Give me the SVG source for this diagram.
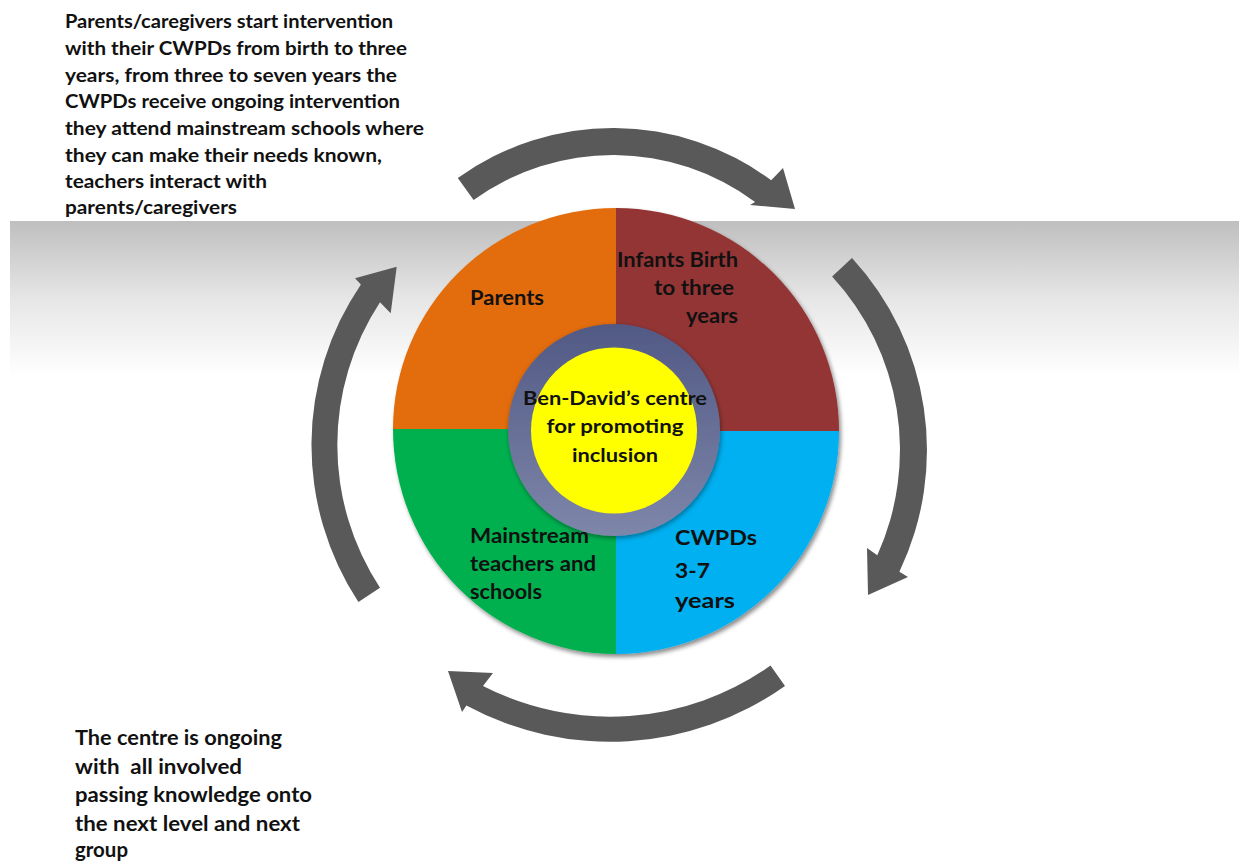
<svg xmlns="http://www.w3.org/2000/svg" width="1239" height="861" viewBox="0 0 1239 861">
  <defs>
    <linearGradient id="band" x1="0" y1="0" x2="0" y2="1">
      <stop offset="0" stop-color="#bfbfbf"/>
      <stop offset="0.5" stop-color="#e6e6e6"/>
      <stop offset="1" stop-color="#ffffff"/>
    </linearGradient>
    <linearGradient id="ring" x1="0" y1="0" x2="0" y2="1">
      <stop offset="0" stop-color="#515984"/>
      <stop offset="1" stop-color="#7e86aa"/>
    </linearGradient>
    <filter id="shadow" x="-10%" y="-10%" width="120%" height="120%">
      <feDropShadow dx="2" dy="3" stdDeviation="2" flood-color="#000" flood-opacity="0.45"/>
    </filter>
    <filter id="ringShadow" x="-20%" y="-20%" width="140%" height="140%">
      <feDropShadow dx="1" dy="2" stdDeviation="2.5" flood-color="#000" flood-opacity="0.4"/>
    </filter>
  </defs>
  <style>
    .t { font-family: Lato, "Liberation Sans", sans-serif; font-weight: bold; fill: #111; }
    .note { font-size: 18.5px; }
    .note2 { font-size: 20.5px; }
    .lab { font-size: 20px; }
    .ctr { font-size: 18.5px; }
    .arrow { fill: #595959; }
  </style>

  <rect x="10" y="221" width="1229" height="155" fill="url(#band)"/>

  <g id="note-top">
    <text class="t note" x="65" y="28" textLength="328" lengthAdjust="spacingAndGlyphs">Parents/caregivers start intervention</text>
    <text class="t note" x="65" y="55" textLength="342" lengthAdjust="spacingAndGlyphs">with their CWPDs from birth to three</text>
    <text class="t note" x="65" y="82" textLength="332" lengthAdjust="spacingAndGlyphs">years, from three to seven years the</text>
    <text class="t note" x="65" y="108" textLength="335" lengthAdjust="spacingAndGlyphs">CWPDs receive ongoing intervention</text>
    <text class="t note" x="65" y="135" textLength="359" lengthAdjust="spacingAndGlyphs">they attend mainstream schools where</text>
    <text class="t note" x="65" y="162" textLength="317" lengthAdjust="spacingAndGlyphs">they can make their needs known,</text>
    <text class="t note" x="65" y="188" textLength="202" lengthAdjust="spacingAndGlyphs">teachers interact with</text>
    <text class="t note" x="65" y="214" textLength="172" lengthAdjust="spacingAndGlyphs">parents/caregivers</text>
  </g>

  <g id="note-bottom">
    <text class="t note2" x="75" y="745" textLength="207" lengthAdjust="spacingAndGlyphs">The centre is ongoing</text>
    <text class="t note2" x="75" y="773.5" textLength="167" lengthAdjust="spacingAndGlyphs" style="white-space:pre">with  all involved</text>
    <text class="t note2" x="75" y="802" textLength="237" lengthAdjust="spacingAndGlyphs">passing knowledge onto</text>
    <text class="t note2" x="75" y="830.5" textLength="225" lengthAdjust="spacingAndGlyphs">the next level and next</text>
    <text class="t note2" x="75" y="857" textLength="53" lengthAdjust="spacingAndGlyphs">group</text>
  </g>

  <g id="connectors">
    <path class="arrow" d="M 457.8,178.1 A 265.3 265.3 0 0 1 771.2,180.3 L 783,168 L 795,209 L 750,205 L 755.1,202.0 A 238.3 238.3 0 0 0 473.6,200.0 Z"/>
    <path class="arrow" d="M 852.0,258.1 A 283 283 0 0 1 899.4,571.8 L 908,577 L 868,595 L 867,548 L 877.3,555.3 A 256 256 0 0 0 832.1,276.4 Z"/>
    <path class="arrow" d="M 785.0,686.0 A 302.8 302.8 0 0 1 466.4,705.5 L 462,712 L 448,671 L 493,673 L 483.0,686.0 A 277.8 277.8 0 0 0 770.5,665.6 Z"/>
    <path class="arrow" d="M 358.4,601.9 A 285.7 285.7 0 0 1 360.9,284.4 L 355,278.3 L 396.7,266.7 L 390.7,313.3 L 380.0,302.3 A 259.9 259.9 0 0 0 380.0,587.7 Z"/>
  </g>

  <g id="pie" filter="url(#shadow)">
    <g id="q-parents">
      <path d="M 616,429 L 616,208 A 223 221 0 0 0 393,429 Z" fill="#e36c0a"/>
    </g>
    <g id="q-infants">
      <path d="M 616,431 L 616,208 A 223 223 0 0 1 839,431 Z" fill="#943634"/>
    </g>
    <g id="q-cwpds">
      <path d="M 616,431 L 839,431 A 223 223 0 0 1 616,654 Z" fill="#00b0f0"/>
    </g>
    <g id="q-mainstream">
      <path d="M 616,429 L 616,654 A 223 225 0 0 1 393,429 Z" fill="#00b050"/>
    </g>
  </g>

  <g id="centre">
    <circle cx="614" cy="430" r="106" fill="url(#ring)" filter="url(#ringShadow)"/>
    <circle cx="614" cy="430.5" r="83" fill="#ffff00"/>
    <text class="t ctr" x="615" y="405" text-anchor="middle" textLength="184" lengthAdjust="spacingAndGlyphs">Ben-David’s centre</text>
    <text class="t ctr" x="615" y="433" text-anchor="middle" textLength="137" lengthAdjust="spacingAndGlyphs">for promoting</text>
    <text class="t ctr" x="615" y="462" text-anchor="middle" textLength="86" lengthAdjust="spacingAndGlyphs">inclusion</text>
  </g>

  <g id="label-parents">
    <text class="t lab" x="470" y="305" textLength="74" lengthAdjust="spacingAndGlyphs">Parents</text>
  </g>
  <g id="label-infants">
    <text class="t lab" x="738" y="267" text-anchor="end" textLength="121" lengthAdjust="spacingAndGlyphs">Infants Birth</text>
    <text class="t lab" x="734" y="295" text-anchor="end" textLength="80" lengthAdjust="spacingAndGlyphs">to three</text>
    <text class="t lab" x="738" y="323" text-anchor="end" textLength="52" lengthAdjust="spacingAndGlyphs">years</text>
  </g>
  <g id="label-mainstream">
    <text class="t lab" x="470" y="543" textLength="119" lengthAdjust="spacingAndGlyphs">Mainstream</text>
    <text class="t lab" x="470" y="571" textLength="126" lengthAdjust="spacingAndGlyphs">teachers and</text>
    <text class="t lab" x="470" y="599" textLength="72" lengthAdjust="spacingAndGlyphs">schools</text>
  </g>
  <g id="label-cwpds">
    <text class="t lab" x="675" y="545" textLength="82" lengthAdjust="spacingAndGlyphs" style="font-size:21.5px">CWPDs</text>
    <text class="t lab" x="675" y="578" textLength="35" lengthAdjust="spacingAndGlyphs" style="font-size:21.5px">3-7</text>
    <text class="t lab" x="675" y="608" textLength="60" lengthAdjust="spacingAndGlyphs" style="font-size:21.5px">years</text>
  </g>
</svg>
